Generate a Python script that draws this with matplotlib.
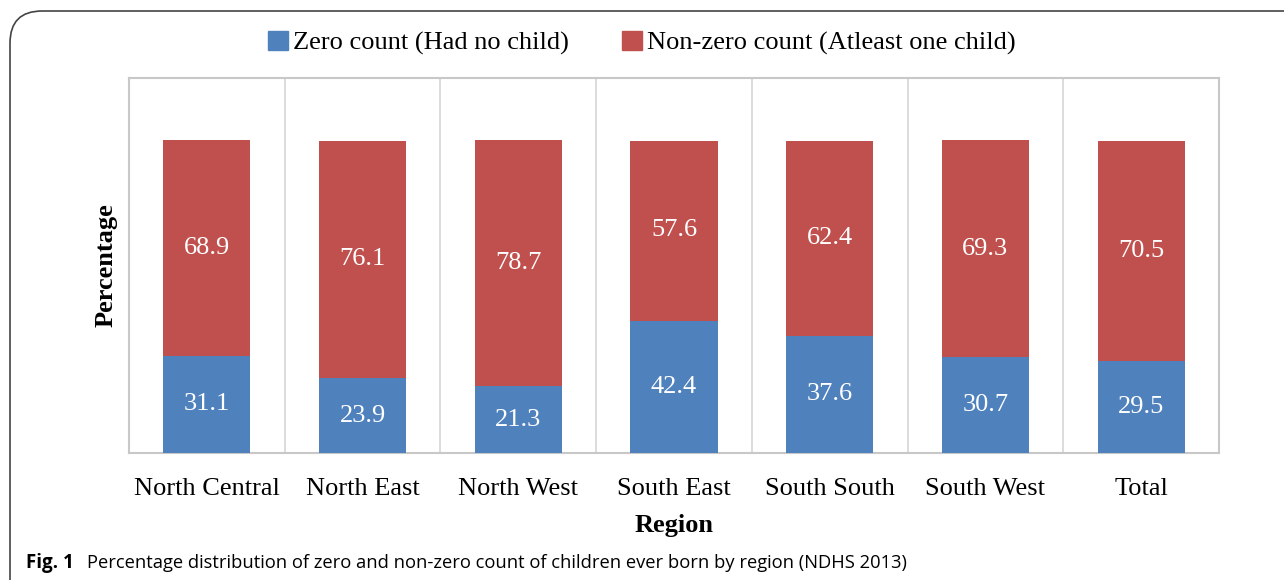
import matplotlib
matplotlib.use("Agg")
import matplotlib.pyplot as plt
from matplotlib.patches import FancyBboxPatch, Rectangle
import numpy as np

categories = ["North Central", "North East", "North West", "South East",
              "South South", "South West", "Total"]
zero_count = [31.1, 23.9, 21.3, 42.4, 37.6, 30.7, 29.5]
nonzero_count = [68.9, 76.1, 78.7, 57.6, 62.4, 69.3, 70.5]
series_names = ["Zero count (Had no child)", "Non-zero count (Atleast one child)"]

BLUE = "#4F81BD"
RED = "#C0504D"
W, H = 1284, 580
fig = plt.figure(figsize=(W / 100, H / 100), dpi=100)
serif = ["Liberation Serif", "DejaVu Serif"]

# axes in pixel coordinates
x0, x1, ytop, ybot = 129, 1219, 78, 453
ax = fig.add_axes([x0 / W, 1 - ybot / H, (x1 - x0) / W, (ybot - ytop) / H])
x = np.arange(len(categories))
bw = 0.56
ax.bar(x, zero_count, bw, color=BLUE, zorder=3)
ax.bar(x, nonzero_count, bw, bottom=zero_count, color=RED, zorder=3)
ax.set_xlim(-0.5, len(categories) - 0.5)
ax.set_ylim(0, 120)
for b in np.arange(0.5, len(categories) - 0.5, 1):
    ax.axvline(b, color="#d9d9d9", lw=1.3, zorder=1)
for s in ax.spines.values():
    s.set_color("#c8c8c8")
    s.set_linewidth(1.5)
ax.set_yticks([])
ax.set_xticks(x)
ax.set_xticklabels(categories, fontsize=19, family=serif)
ax.tick_params(axis="x", length=0, pad=18)

for i in range(len(categories)):
    ax.text(x[i], zero_count[i] / 2, f"{zero_count[i]:.1f}", ha="center", va="center",
            color="white", fontsize=19, family=serif, zorder=4)
    ax.text(x[i], zero_count[i] + nonzero_count[i] / 2, f"{nonzero_count[i]:.1f}",
            ha="center", va="center", color="white", fontsize=19, family=serif, zorder=4)

ax.set_ylabel("Percentage", fontsize=19, family=serif, fontweight="bold", labelpad=8)
ax.set_xlabel("Region", fontsize=19, family=serif, fontweight="bold", labelpad=10)

# legend
handles = [Rectangle((0, 0), 1, 1, color=BLUE), Rectangle((0, 0), 1, 1, color=RED)]
leg = fig.legend(handles, series_names, loc="center", bbox_to_anchor=(0.5, 1 - 43 / H),
                 ncol=2, frameon=False, prop={"family": serif, "size": 19},
                 handlelength=0.75, handleheight=0.75, handletextpad=0.2, columnspacing=2.0)

# frame
frame = FancyBboxPatch((10 / W, -0.1), 1.2, 1 - 11 / H + 0.1,
                       boxstyle="round,pad=0,rounding_size=0.025",
                       transform=fig.transFigure, fill=False, ec="#444444", lw=1.2,
                       mutation_aspect=W / H)
fig.patches.append(frame)

# caption
fig.text(26 / W, 1 - 563 / H, "Fig. 1", fontsize=13.5, fontweight="bold",
         family=["Open Sans", "DejaVu Sans"], va="center", ha="left")
fig.text(87 / W, 1 - 563 / H,
         "Percentage distribution of zero and non-zero count of children ever born by region (NDHS 2013)",
         fontsize=13.2, family=["Open Sans", "DejaVu Sans"], va="center", ha="left")

fig.savefig("out.png", dpi=100)
